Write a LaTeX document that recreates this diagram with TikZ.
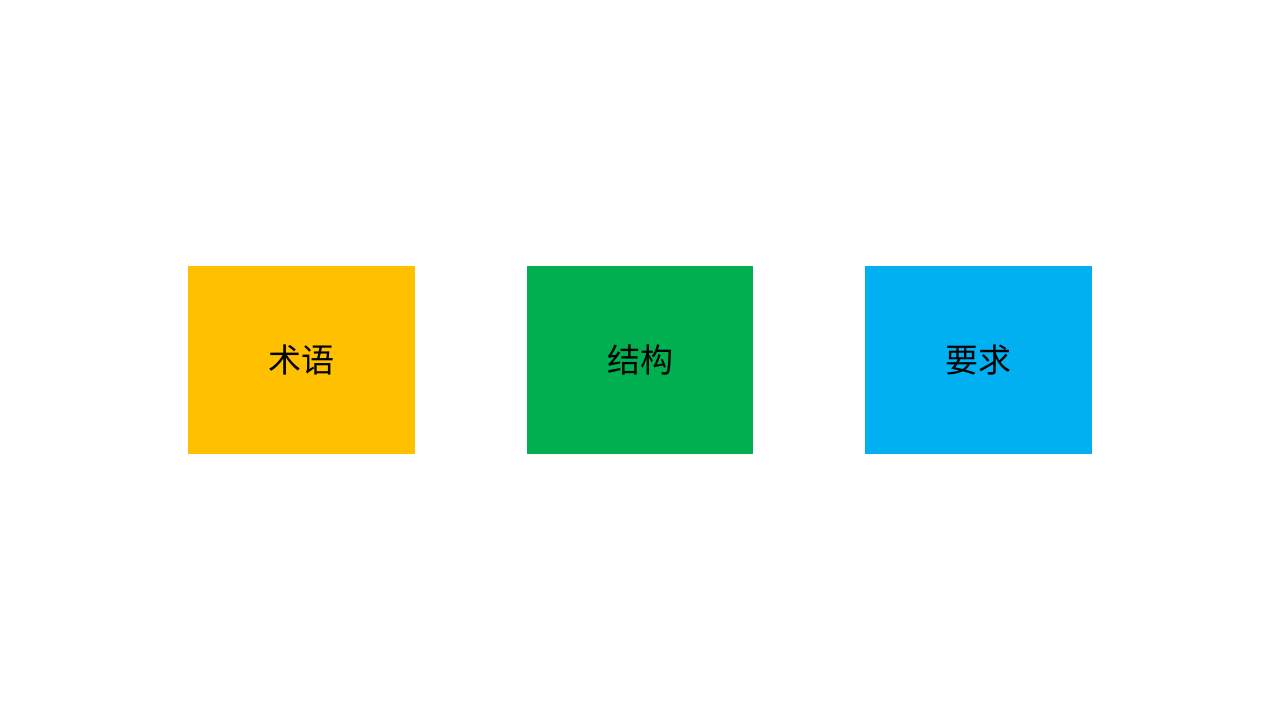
\documentclass[tikz,border=0pt]{standalone}
\usepackage{fontspec}
\newfontfamily\cjk{Noto Sans CJK SC}
\definecolor{cyel}{HTML}{FFC000}
\definecolor{cgrn}{HTML}{00B050}
\definecolor{cblu}{HTML}{00B0F0}
\begin{document}
\begin{tikzpicture}[x=1pt,y=1pt,
  card/.style={minimum width=227pt,minimum height=188pt,inner sep=0pt,draw=none,font=\cjk\fontsize{33}{38}\selectfont,text=black}]
\useasboundingbox[fill=white] (0,0) rectangle (1280,720);
\node[card,fill=cyel] (a) at (301.5,360) {术语};
\node[card,fill=cgrn,minimum width=226pt] (b) at (640,360) {结构};
\node[card,fill=cblu] (c) at (978.5,360) {要求};
\end{tikzpicture}
\end{document}
